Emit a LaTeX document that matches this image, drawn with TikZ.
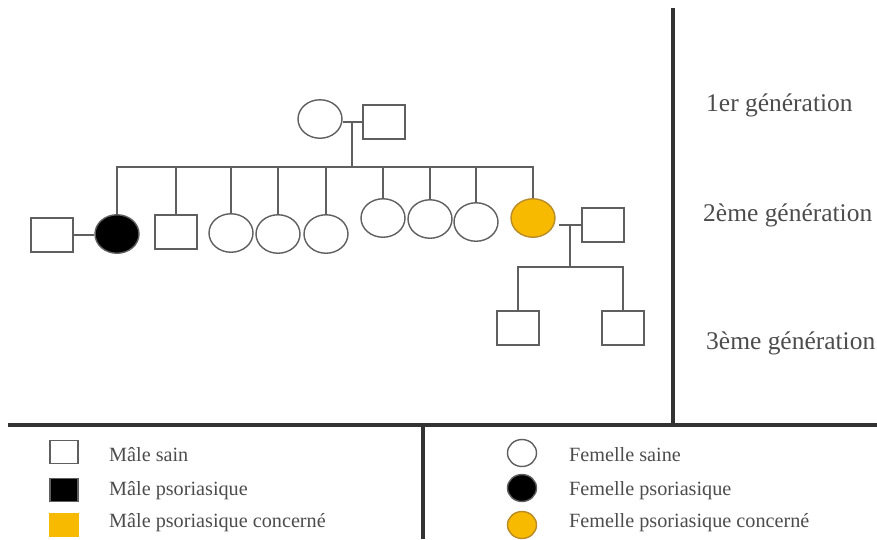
\documentclass[tikz,border=0pt]{standalone}
\usepackage{fontspec}
\setmainfont{Liberation Serif}
\usetikzlibrary{shapes.geometric}
\definecolor{ocre}{RGB}{247,186,0}
\definecolor{ocrebord}{RGB}{185,140,40}
\definecolor{trait}{RGB}{95,95,95}

\begin{document}
\begin{tikzpicture}[x=0.02cm,y=-0.02cm,
  male/.style={draw=trait,line width=0.8pt,rectangle,minimum width=0.84cm,minimum height=0.68cm,inner sep=0pt},
  femelle/.style={draw=trait,line width=0.8pt,ellipse,minimum width=0.88cm,minimum height=0.77cm,inner sep=0pt},
  malpetit/.style={male,minimum width=0.56cm,minimum height=0.46cm},
  fempetit/.style={femelle,minimum width=0.58cm,minimum height=0.54cm},
  lien/.style={draw=trait,line width=0.8pt},
  cadre/.style={draw=black!80,line width=1.8pt},
  gen/.style={anchor=west,font=\fontsize{14.5}{16}\selectfont,text=black!70},
  leg/.style={anchor=west,font=\fontsize{11.5}{13}\selectfont,text=black!70}]
  \useasboundingbox (0,0) rectangle (877,539);
  % 1re generation
  \node[femelle] (gm) at (320,119) {}; \node[male] (gp) at (384,122) {};
  \coordinate (u1) at (352,122); \coordinate (s1) at (352,167);
  \draw[lien] (gp.west) -- (gp.west -| gm.east); \draw[lien] (u1) -- (s1);
  % 2e generation
  \node[male] (ep) at (52,235) {};
  \node[femelle,fill=black] (f1) at (117,234) {};
  \node[male] (f2) at (176,232) {};
  \node[femelle] (f3) at (231,233) {}; \node[femelle] (f4) at (278,234) {};
  \node[femelle] (f5) at (326,234) {}; \node[femelle] (f6) at (383,218) {};
  \node[femelle] (f7) at (430,219) {}; \node[femelle] (f8) at (476,222) {};
  \node[femelle,fill=ocre,draw=ocrebord] (f9) at (533,218) {};
  \node[male] (ep2) at (603,225) {};
  \foreach \e in {f1,f2,f3,f4,f5,f6,f7,f8,f9}
    \draw[lien] (\e.north) |- (s1);
  \draw[lien] (ep.east) -- (ep.east -| f1.west);
  \coordinate (u2) at (570,224); \coordinate (s2) at (570,267);
  \draw[lien] (ep2.west) -- ++(-22,0); \draw[lien] (u2) -- (s2);
  % 3e generation
  \node[male] (p1) at (518,328) {}; \node[male] (p2) at (623,328) {};
  \draw[lien] (p1.north) |- (s2); \draw[lien] (p2.north) |- (s2);
  % cadres
  \draw[cadre] (673,8) -- (673,425); \draw[cadre] (8,425) -- (877,425);
  \draw[cadre] (423,425) -- (423,539);
  \node[gen] (g1) at (700,105) {1er génération};
  \node[gen] (g2) at (697,215) {2ème génération};
  \node[gen] (g3) at (700,343) {3ème génération};
  % legende
  \node[malpetit] (l1) at (64,452) {}; \node[leg] at (103,455) {Mâle sain};
  \node[malpetit,fill=black] (l2) at (64,490) {}; \node[leg] at (103,491) {Mâle psoriasique};
  \node[malpetit,fill=ocre,draw=ocre] (l3) at (64,525) {}; \node[leg] at (103,523) {Mâle psoriasique concerné};
  \node[fempetit] (l4) at (522,453) {}; \node[leg] at (563,455) {Femelle saine};
  \node[fempetit,fill=black] (l5) at (522,488) {}; \node[leg] at (563,491) {Femelle psoriasique};
  \node[fempetit,fill=ocre,draw=ocrebord] (l6) at (522,525) {}; \node[leg] at (563,523) {Femelle psoriasique concerné};
\end{tikzpicture}
\end{document}
